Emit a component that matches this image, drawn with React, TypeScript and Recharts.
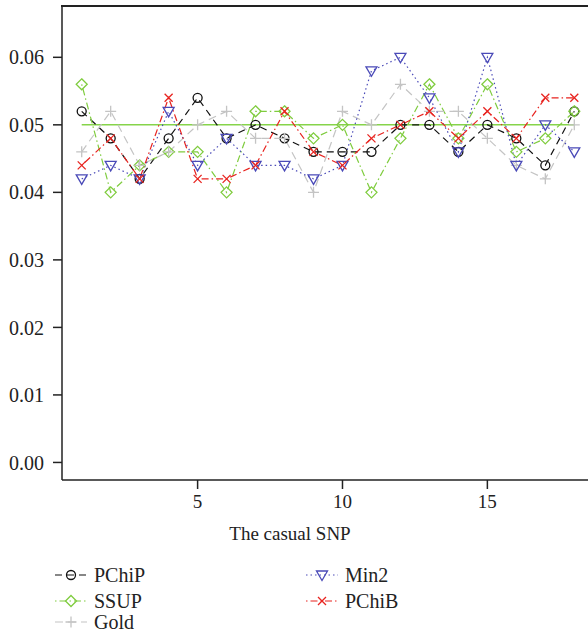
import React from "react"
import { LineChart, Line, XAxis, YAxis, ReferenceLine } from "recharts"

// casual SNP index 1..18
const snp = [1, 2, 3, 4, 5, 6, 7, 8, 9, 10, 11, 12, 13, 14, 15, 16, 17, 18]

const pchip = [0.052, 0.048, 0.042, 0.048, 0.054, 0.048, 0.05, 0.048, 0.046, 0.046, 0.046, 0.05, 0.05, 0.046, 0.05, 0.048, 0.044, 0.052]
const ssup = [0.056, 0.04, 0.044, 0.046, 0.046, 0.04, 0.052, 0.052, 0.048, 0.05, 0.04, 0.048, 0.056, 0.048, 0.056, 0.046, 0.048, 0.052]
const gold = [0.046, 0.052, 0.044, 0.046, 0.05, 0.052, 0.048, 0.048, 0.04, 0.052, 0.05, 0.056, 0.052, 0.052, 0.048, 0.044, 0.042, 0.05]
const min2 = [0.042, 0.044, 0.042, 0.052, 0.044, 0.048, 0.044, 0.044, 0.042, 0.044, 0.058, 0.06, 0.054, 0.046, 0.06, 0.044, 0.05, 0.046]
const pchib = [0.044, 0.048, 0.042, 0.054, 0.042, 0.042, 0.044, 0.052, 0.046, 0.044, 0.048, 0.05, 0.052, 0.048, 0.052, 0.048, 0.054, 0.054]

const nominalLevel = 0.05
const yTicks = [0, 0.01, 0.02, 0.03, 0.04, 0.05, 0.06]
const xTicks = [5, 10, 15]

const data = snp.map((s, i) => ({
  snp: s,
  PChiP: pchip[i],
  SSUP: ssup[i],
  Gold: gold[i],
  Min2: min2[i],
  PChiB: pchib[i],
}))

const FONT = "'Liberation Serif', 'DejaVu Serif', serif"

type MarkerKind = "circle" | "diamond" | "plus" | "triangle" | "cross"

const Marker = ({ kind, cx, cy, color }: { kind: MarkerKind; cx: number; cy: number; color: string }) => {
  const sw = 1.3
  if (kind === "circle") return <circle cx={cx} cy={cy} r={4.5} fill="none" stroke={color} strokeWidth={sw} />
  if (kind === "diamond")
    return (
      <polygon
        points={`${cx},${cy - 5.5} ${cx + 5.5},${cy} ${cx},${cy + 5.5} ${cx - 5.5},${cy}`}
        fill="none"
        stroke={color}
        strokeWidth={sw}
      />
    )
  if (kind === "triangle")
    return (
      <polygon
        points={`${cx - 5.5},${cy - 4} ${cx + 5.5},${cy - 4} ${cx},${cy + 5.5}`}
        fill="none"
        stroke={color}
        strokeWidth={sw}
      />
    )
  if (kind === "plus")
    return (
      <path d={`M${cx - 5.5},${cy}H${cx + 5.5}M${cx},${cy - 5.5}V${cy + 5.5}`} stroke={color} strokeWidth={sw} fill="none" />
    )
  return (
    <path
      d={`M${cx - 4},${cy - 4}L${cx + 4},${cy + 4}M${cx - 4},${cy + 4}L${cx + 4},${cy - 4}`}
      stroke={color}
      strokeWidth={sw}
      fill="none"
    />
  )
}

const series = [
  { key: "PChiP", color: "#111111", dash: "7 5", marker: "circle" as MarkerKind },
  { key: "SSUP", color: "#7fcc3e", dash: "1.5 3 7 3", marker: "diamond" as MarkerKind },
  { key: "Gold", color: "#c4c4c4", dash: "8 5", marker: "plus" as MarkerKind },
  { key: "Min2", color: "#4a4ab8", dash: "1.5 3", marker: "triangle" as MarkerKind },
  { key: "PChiB", color: "#e8231f", dash: "1.5 3 7 3", marker: "cross" as MarkerKind },
]

// legend layout: left column, right column
const legendPos: Record<string, { left: number; top: number }> = {
  PChiP: { left: 55, top: 575 },
  SSUP: { left: 55, top: 601 },
  Gold: { left: 55, top: 622 },
  Min2: { left: 306, top: 575 },
  PChiB: { left: 306, top: 601 },
}

export default function App() {
  return (
    <div
      style={{
        position: "absolute",
        left: 0,
        top: 0,
        width: 588,
        height: 633,
        overflow: "hidden",
        background: "#fff",
        fontFamily: FONT,
      }}
    >
      <LineChart
        width={600}
        height={633}
        data={data}
        margin={{ top: 6, right: 6, left: 0, bottom: 0 }}
        style={{ fontFamily: FONT }}
      >
        <XAxis
          dataKey="snp"
          type="number"
          domain={[0.32, 18.68]}
          ticks={xTicks}
          height={153}
          tickSize={9}
          tickMargin={6}
          stroke="#222"
          strokeWidth={1.5}
          tick={{ fill: "#222", fontSize: 19, fontFamily: FONT }}
          label={{
            content: () => (
              <text x={290} y={540} textAnchor="middle" fill="#222" fontSize={19} fontFamily={FONT}>
                The casual SNP
              </text>
            ),
          }}
        />
        <YAxis
          type="number"
          domain={[-0.0026, 0.0676]}
          ticks={yTicks}
          width={62}
          tickSize={9}
          tickMargin={9}
          stroke="#222"
          strokeWidth={1.5}
          tickFormatter={(v: number) => v.toFixed(2)}
          tick={{ fill: "#222", fontSize: 20, fontFamily: FONT }}
        />
        <ReferenceLine
          segment={[
            { x: 1, y: nominalLevel },
            { x: 18, y: nominalLevel },
          ]}
          stroke="#86d44a"
          strokeWidth={1.5}
        />
        {series.map((s) => (
          <Line
            key={s.key}
            dataKey={s.key}
            type="linear"
            stroke={s.color}
            strokeWidth={1.2}
            strokeDasharray={s.dash}
            isAnimationActive={false}
            activeDot={false}
            dot={(p: any) => <Marker key={`${s.key}-${p.index}`} kind={s.marker} cx={p.cx} cy={p.cy} color={s.color} />}
          />
        ))}
      </LineChart>
      {/* top edge of the plot frame */}
      <div style={{ position: "absolute", left: 61, top: 5, width: 540, height: 2, background: "#222" }} />
      {series.map((s) => {
        const pos = legendPos[s.key]
        return (
          <div
            key={s.key}
            style={{
              position: "absolute",
              left: pos.left,
              top: pos.top - 12,
              height: 24,
              display: "flex",
              alignItems: "center",
              fontFamily: FONT,
              fontSize: 20,
              color: "#222",
              whiteSpace: "nowrap",
            }}
          >
            <svg width={32} height={24} style={{ marginRight: 7 }}>
              <line x1={0} y1={12} x2={32} y2={12} stroke={s.color} strokeWidth={1.2} strokeDasharray={s.dash} />
              <Marker kind={s.marker} cx={16} cy={12} color={s.color} />
            </svg>
            <span>{s.key}</span>
          </div>
        )
      })}
    </div>
  )
}
